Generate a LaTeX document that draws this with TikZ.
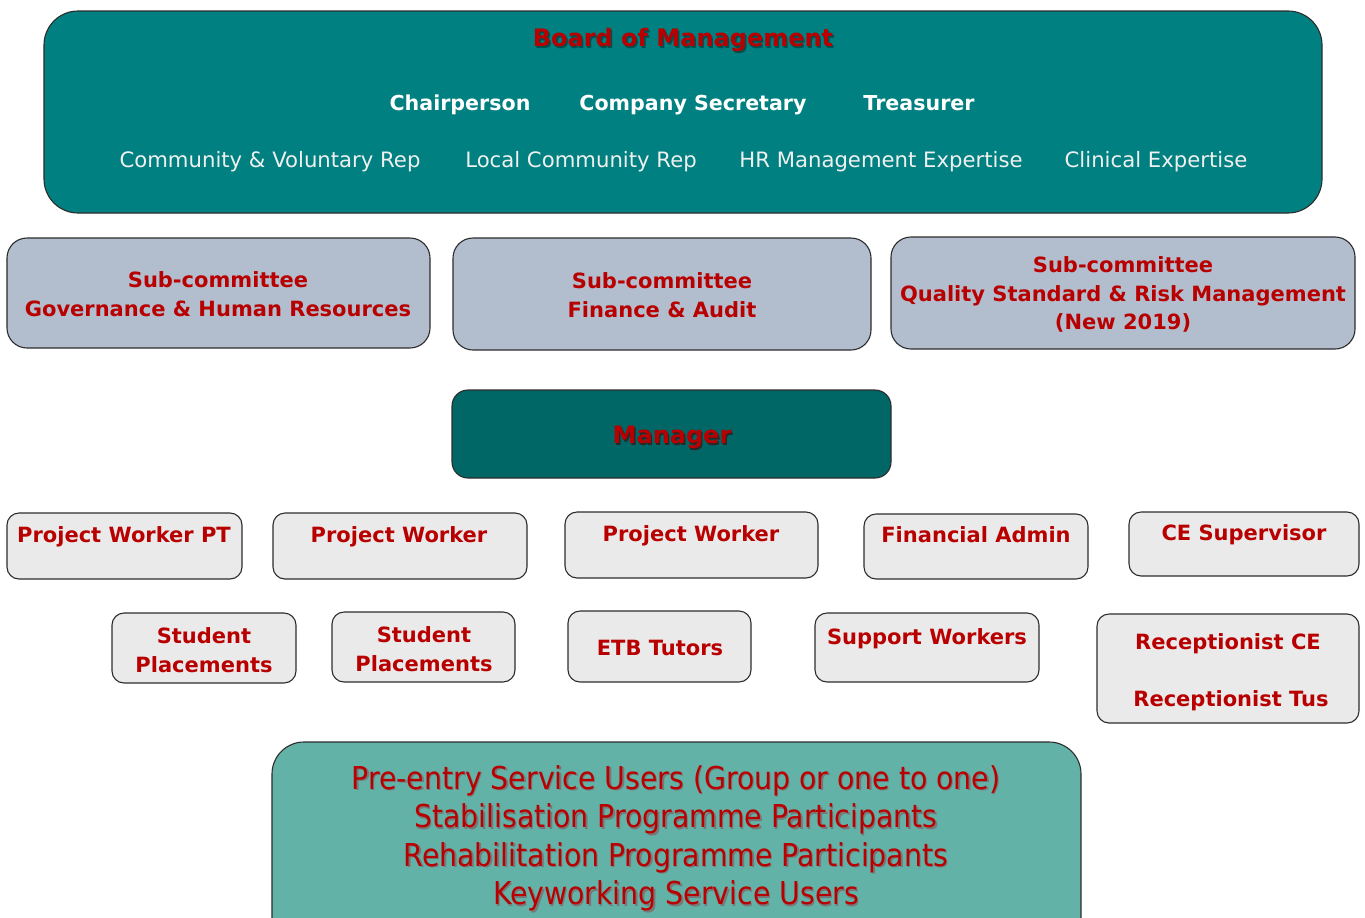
\documentclass[tikz,border=0pt]{standalone}
\usepackage{fontspec}
\setmainfont{DejaVu Sans}
\newfontfamily\condfont{DejaVu Sans Condensed}
\definecolor{boardteal}{RGB}{0,128,128}
\definecolor{mgrteal}{RGB}{0,102,102}
\definecolor{subgrey}{RGB}{178,190,205}
\definecolor{staffgrey}{RGB}{234,234,234}
\definecolor{userteal}{RGB}{98,178,168}
\definecolor{titlered}{RGB}{185,0,0}
\definecolor{edgegrey}{RGB}{45,45,45}
\definecolor{shadegrey}{RGB}{120,120,120}
\definecolor{shadedark}{RGB}{40,40,40}
\definecolor{shadeteal}{RGB}{0,80,80}
% text with a small drop shadow
\newcommand\shd[2][shadegrey]{\leavevmode\rlap{\kern1.4bp\raisebox{-1.4bp}{\textcolor{#1}{#2}}}#2}
\tikzset{
  box/.style={draw=edgegrey, line width=1.1bp, inner sep=0pt},
  boardbox/.style={box, fill=boardteal, rounded corners=34bp},
  subbox/.style={box, fill=subgrey, rounded corners=20bp},
  mgrbox/.style={box, fill=mgrteal, rounded corners=16bp},
  staffbox/.style={box, fill=staffgrey, rounded corners=12bp},
  userbox/.style={box, fill=userteal, rounded corners=32bp},
  % multi-line red labels
  redtxt/.style={inner sep=0pt, text=titlered, font=\bfseries\fontsize{21bp}{28.5bp}\selectfont, align=center},
  % single-line labels with a fixed strut so that rows line up
  redone/.style={redtxt, text height=15.5bp, text depth=4.6bp},
  bigred/.style={inner sep=0pt, text=titlered, font=\bfseries\fontsize{24bp}{28bp}\selectfont, text height=17.8bp, text depth=5.3bp},
  whitebold/.style={inner sep=0pt, text=white, font=\bfseries\fontsize{20.6bp}{24bp}\selectfont, text height=15.2bp, text depth=4.5bp},
  whitereg/.style={inner sep=0pt, text=white!94!black, font=\fontsize{21.2bp}{24bp}\selectfont, text height=15.7bp, text depth=4.7bp},
}
\begin{document}
\begin{tikzpicture}[x=1bp, y=-1bp]
\useasboundingbox (0,0) rectangle (1365,917);
\fill[white] (0,0) rectangle (1365,917);

% ---- Board of Management
\node[boardbox, minimum width=1278bp, minimum height=202bp] (board) at (683,112) {};
\node[bigred] (boardt) at (683,40.5) {\shd[shadeteal]{Board of Management}};
\node[whitebold] (chair) at (460,105) {Chairperson};
\node[whitebold] (sec) at (693,105) {Company Secretary};
\node[whitebold] (treas) at (919,105) {Treasurer};
\node[whitereg] (cvrep) at (270,162) {Community \& Voluntary Rep};
\node[whitereg] (lcrep) at (581,162) {Local Community Rep};
\node[whitereg] (hrexp) at (881,162) {HR Management Expertise};
\node[whitereg] (clexp) at (1156,162) {Clinical Expertise};

% ---- Sub-committees
\node[subbox, minimum width=423bp, minimum height=110bp] (sub1) at (218.5,293) {};
\node[redtxt] (sub1t) at (218,294) {Sub-committee\\Governance \& Human Resources};
\node[subbox, minimum width=418bp, minimum height=112bp] (sub2) at (662,294) {};
\node[redtxt] (sub2t) at (662,295) {Sub-committee\\Finance \& Audit};
\node[subbox, minimum width=464bp, minimum height=112bp] (sub3) at (1123,293) {};
\node[redtxt] (sub3t) at (1123,294.5) {Sub-committee\\Quality Standard \& Risk Management\\(New 2019)};

% ---- Manager
\node[mgrbox, minimum width=439bp, minimum height=88bp] (mgr) at (671.5,434) {};
\node[bigred] (mgrt) at (672,437.5) {\shd[shadedark]{Manager}};

% ---- Staff, first row
\node[staffbox, minimum width=235bp, minimum height=66bp] (pwpt) at (124.5,546) {};
\node[redone] (pwptt) at (124,537) {Project Worker PT};
\node[staffbox, minimum width=254bp, minimum height=66bp] (pw1) at (400,546) {};
\node[redone] (pw1t) at (399,537) {Project Worker};
\node[staffbox, minimum width=253bp, minimum height=66bp] (pw2) at (691.5,545) {};
\node[redone] (pw2t) at (691,536) {Project Worker};
\node[staffbox, minimum width=224bp, minimum height=65bp] (fin) at (976,546.5) {};
\node[redone] (fint) at (976,537) {Financial Admin};
\node[staffbox, minimum width=230bp, minimum height=64bp] (ces) at (1244,544) {};
\node[redone] (cest) at (1244,535) {CE Supervisor};

% ---- Staff, second row
\node[staffbox, minimum width=184bp, minimum height=70bp] (stu1) at (204,648) {};
\node[redtxt] (stu1t) at (204,650) {Student\\Placements};
\node[staffbox, minimum width=183bp, minimum height=70bp] (stu2) at (423.5,647) {};
\node[redtxt] (stu2t) at (424,649) {Student\\Placements};
\node[staffbox, minimum width=183bp, minimum height=71bp] (etb) at (659.5,646.5) {};
\node[redone] (etbt) at (660,650) {ETB Tutors};
\node[staffbox, minimum width=224bp, minimum height=69bp] (sup) at (927,647.5) {};
\node[redone] (supt) at (927,639) {Support Workers};
\node[staffbox, minimum width=262bp, minimum height=109bp] (rec) at (1228,668.5) {};
\node[redone] (rect1) at (1228,644) {Receptionist CE};
\node[redone] (rect2) at (1231,701) {Receptionist Tus};

% ---- Service users
\node[userbox, minimum width=809bp, minimum height=220bp] (users) at (676.5,852) {};
\node[text=titlered, font=\condfont\fontsize{31.5bp}{38.5bp}\selectfont, align=center, inner sep=0pt] (userst) at (676,839)
  {\shd{Pre-entry Service Users (Group or one to one)}\\
   \shd{Stabilisation Programme Participants}\\
   \shd{Rehabilitation Programme Participants}\\
   \shd{Keyworking Service Users}};
\end{tikzpicture}
\end{document}
